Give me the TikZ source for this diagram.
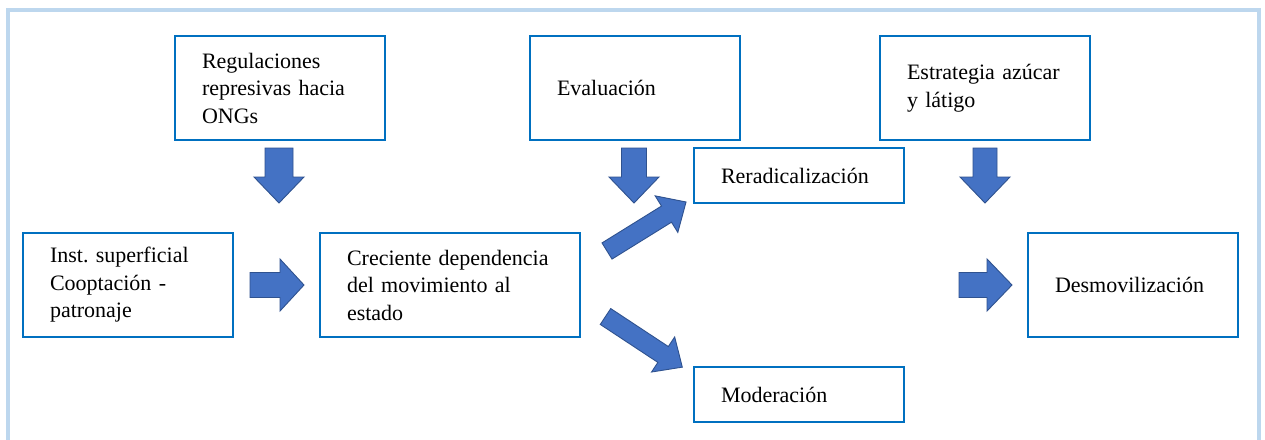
\documentclass[tikz,border=0pt]{standalone}
\usepackage{fontspec}
\setmainfont{Liberation Serif}
\frenchspacing
\definecolor{framecol}{HTML}{BDD7EE}
\definecolor{boxcol}{HTML}{0070C0}
\definecolor{arrfill}{HTML}{4472C4}
\definecolor{arredge}{HTML}{2F528F}
\newcommand\blockarr[7]{\path[barrow,shift={(#1,#2)},rotate=#3] (0,-#5) -- ({#4-#7},-#5) -- ({#4-#7},-#6) -- (#4,0) -- ({#4-#7},#6) -- ({#4-#7},#5) -- (0,#5) -- cycle;}
\begin{document}
\begin{tikzpicture}[x=1pt,y=-1pt,
  box/.style={draw=boxcol, line width=2.8pt, fill=white, rectangle, inner xsep=27pt, inner ysep=0pt,
    align=left, font=\fontsize{22}{27.5}\selectfont, text=black},
  barrow/.style={fill=arrfill, draw=arredge, line width=0.9pt, line join=miter}]
\useasboundingbox[fill=white] (0,0) rectangle (1265,439);
\draw[framecol, line width=4pt] (8,441) -- (8,10) -- (1259,10) -- (1259,441);

\node[box, minimum width=210pt, minimum height=104pt, text width=156pt] (reg) at (280,88) {Regulaciones\\represivas hacia\\ONGs};
\node[box, minimum width=210pt, minimum height=104pt, text width=156pt] (inst) at (128,285) {Inst. superficial\\Cooptación -\\patronaje};
\node[box, minimum width=260pt, minimum height=104pt, text width=206pt] (cre) at (450,285) {Creciente dependencia\\del movimiento al\\estado};
\node[box, minimum width=210pt, minimum height=104pt, text width=156pt] (eval) at (635,88) {Evaluación};
\node[box, minimum width=210pt, minimum height=55pt, text width=156pt] (rerad) at (799,175.5) {Reradicalización};
\node[box, minimum width=210pt, minimum height=55pt, text width=156pt] (moder) at (799,394.5) {Moderación};
\node[box, minimum width=210pt, minimum height=104pt, text width=156pt] (estr) at (985,88) {Estrategia azúcar\\y látigo};
\node[box, minimum width=210pt, minimum height=104pt, text width=156pt] (desm) at (1133,285) {Desmovilización};

\blockarr{279}{148}{-90}{55}{14}{25}{26}
\blockarr{250}{285}{0}{54}{12.5}{26}{24}
\blockarr{634}{148}{-90}{55}{12.5}{25}{26}
\blockarr{607}{251}{31.8}{93}{9.5}{21.5}{23}
\blockarr{605.5}{316.5}{-33.4}{92}{9.5}{21}{23}
\blockarr{985}{148}{-90}{55}{12}{25}{26}
\blockarr{959}{285}{0}{53}{12.5}{26}{25}
\end{tikzpicture}
\end{document}
